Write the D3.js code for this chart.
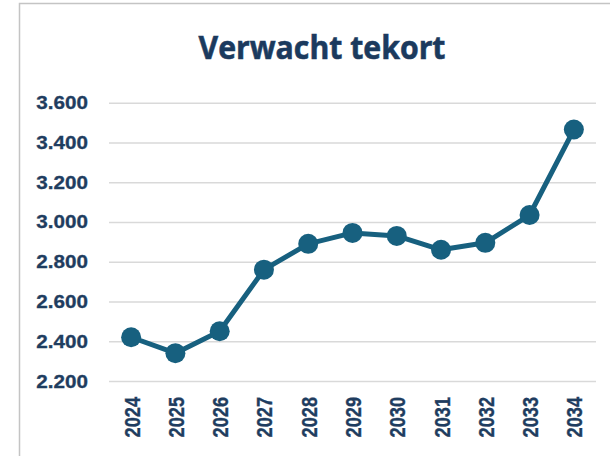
<!DOCTYPE html>
<html>
<head>
<meta charset="utf-8">
<script src="https://cdn.jsdelivr.net/npm/d3@7"></script>
<style>
  body { margin: 0; background: #ffffff; }
</style>
</head>
<body>
<div id="canvas"></div>
<script>
"use strict"

let drawingWidth = 610;
let drawingHeight = 456;

/* Chart data */
let years = ["2024", "2025", "2026", "2027", "2028", "2029", "2030", "2031", "2032", "2033", "2034"];
let tekort = [2420, 2340, 2450, 2760, 2890, 2945, 2930, 2860, 2895, 3035, 3465];
let yTicks = [2200, 2400, 2600, 2800, 3000, 3200, 3400, 3600];

let lineColor = "#17607f";
let textColor = "#1f3d60";
let stretch = 1.18; // the original picture is a bit wider than tall

let drawing = d3.select("#canvas")
    .append("svg")
    .attr("width", drawingWidth)
    .attr("height", drawingHeight);

/* Chart border, runs off the right and bottom of the picture */
drawing.append("rect")
    .attr("x", 19.5)
    .attr("y", 3.5)
    .attr("width", 620)
    .attr("height", 470)
    .attr("fill", "white")
    .attr("stroke", "#c4c4c4")
    .attr("stroke-width", 1.5);

/* Title */
drawing.append("text")
    .attr("x", 322)
    .attr("y", 59)
    .attr("text-anchor", "middle")
    .attr("font-family", "'Open Sans', sans-serif")
    .attr("font-weight", "bold")
    .attr("font-size", 33)
    .attr("textLength", 247)
    .attr("lengthAdjust", "spacingAndGlyphs")
    .attr("fill", "#1b3a5e")
    .attr("stroke", "#1b3a5e")
    .attr("stroke-width", 0.6)
    .text("Verwacht tekort");

/* Scales */
let xScale = d3.scalePoint()
    .domain(years)
    .range([109, 596])
    .padding(0.5);

let yScale = d3.scaleLinear()
    .domain([2200, 3600])
    .range([381, 102.7]);

/* Y axis with gridlines */
let yAxis = drawing.append("g")
    .attr("transform", "translate(109,0)")
    .call(d3.axisLeft(yScale)
        .tickValues(yTicks)
        .tickSize(-487)
        .tickFormat(d => d3.format(",")(d).replace(",", ".")));

yAxis.select(".domain").remove();

yAxis.selectAll(".tick line")
    .attr("stroke", "#d9d9d9")
    .attr("stroke-width", 1.5);

yAxis.selectAll(".tick text")
    .attr("x", 0)
    .attr("dy", null)
    .attr("y", 6)
    .attr("transform", "translate(-21,0) scale(" + stretch + ",1)")
    .attr("font-family", "'Liberation Sans', Arial, sans-serif")
    .attr("font-weight", "bold")
    .attr("font-size", 17.5)
    .attr("fill", textColor)
    .attr("stroke", textColor)
    .attr("stroke-width", 0.3);

/* X axis labels, rotated */
let xAxis = drawing.append("g")
    .attr("transform", "translate(0,381)")
    .call(d3.axisBottom(xScale).tickSize(0));

xAxis.select(".domain").remove();

xAxis.selectAll(".tick text")
    .attr("x", 0)
    .attr("y", 0)
    .attr("dy", null)
    .attr("text-anchor", "end")
    .attr("transform", "translate(8,16) scale(" + stretch + ",1) rotate(-90)")
    .attr("font-family", "'Liberation Sans', Arial, sans-serif")
    .attr("font-weight", "bold")
    .attr("font-size", 18.2)
    .attr("fill", textColor)
    .attr("stroke", textColor)
    .attr("stroke-width", 0.3);

/* The line */
let line = d3.line()
    .x((d, i) => xScale(years[i]))
    .y(d => yScale(d));

drawing.append("path")
    .datum(tekort)
    .attr("d", line)
    .attr("fill", "none")
    .attr("stroke", lineColor)
    .attr("stroke-width", 5)
    .attr("stroke-linejoin", "round");

/* Markers */
drawing.selectAll(".marker")
    .data(tekort)
    .enter()
    .append("circle")
    .attr("class", "marker")
    .attr("cx", (d, i) => xScale(years[i]))
    .attr("cy", d => yScale(d))
    .attr("r", 10)
    .attr("fill", lineColor);
</script>
</body>
</html>
